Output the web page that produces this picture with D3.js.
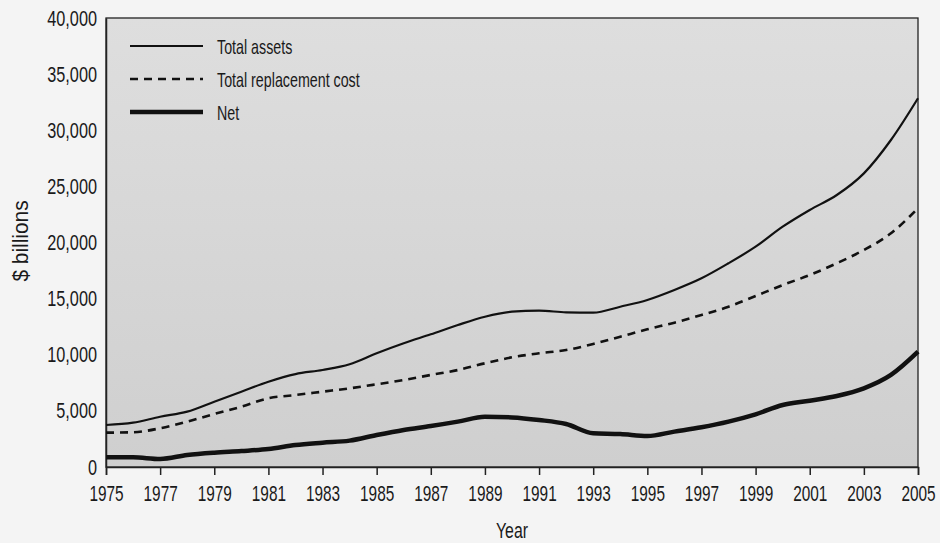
<!DOCTYPE html>
<html>
<head>
<meta charset="utf-8">
<script src="https://cdn.jsdelivr.net/npm/d3@7"></script>
<style>
  html, body { margin: 0; padding: 0; background: #f4f4f4; }
  svg { display: block; }
  text { font-family: "Liberation Sans", "DejaVu Sans Condensed", sans-serif; fill: #1a1a1a; }
</style>
</head>
<body>
<svg id="chart" width="940" height="543"></svg>
<script>
const years = d3.range(1975, 2006);
const totalAssets = [3740, 3950, 4480, 4930, 5820, 6710, 7600, 8280, 8640, 9150,
  10130, 11020, 11820, 12650, 13390, 13840, 13930, 13780, 13750, 14280,
  14880, 15770, 16810, 18150, 19630, 21410, 22900, 24230, 26160, 29130, 32850];
const replacementCost = [3060, 3090, 3450, 4040, 4720, 5370, 6120, 6410, 6710, 7010,
  7370, 7750, 8200, 8640, 9240, 9770, 10130, 10420, 10960, 11610,
  12270, 12860, 13540, 14280, 15230, 16210, 17100, 18150, 19330, 20820, 23050];
const netValues = [860, 860, 710, 1070, 1280, 1420, 1600, 1960, 2170, 2350,
  2850, 3300, 3650, 4040, 4480, 4420, 4190, 3830, 3000, 2940,
  2760, 3150, 3540, 4040, 4690, 5520, 5910, 6330, 7010, 8200, 10270];
const yTicks = [0, 5000, 10000, 15000, 20000, 25000, 30000, 35000, 40000];
const xTicks = d3.range(1975, 2006, 2);
const seriesNames = ["Total assets", "Total replacement cost", "Net"];

const svg = d3.select("#chart");
const m = { left: 106, right: 22, top: 18, bottom: 76 };
const W = 940, H = 543;
const x = d3.scaleLinear().domain([1975, 2005]).range([m.left, W - m.right]);
const y = d3.scaleLinear().domain([0, 40000]).range([H - m.bottom, m.top]);

function narrow(sel, sx) {
  sel.each(function () {
    const t = d3.select(this);
    const xv = +(t.attr("x") || 0);
    t.attr("x", xv / sx).attr("transform", `scale(${sx},1)`);
  });
}
function label(px, py, txt, size, anchor, rot, sx) {
  const g = svg.append("g").attr("transform", `translate(${px},${py})` + (rot ? ` rotate(${rot})` : ""));
  g.append("text").attr("transform", `scale(${sx},1)`).attr("text-anchor", anchor)
    .style("font-size", size + "px").text(txt);
}

const defs = svg.append("defs");
const grad = defs.append("linearGradient").attr("id", "bg").attr("x1", 0).attr("y1", 0).attr("x2", 0).attr("y2", 1);
grad.append("stop").attr("offset", "0%").attr("stop-color", "#dedede");
grad.append("stop").attr("offset", "100%").attr("stop-color", "#cfcfcf");

svg.append("rect")
  .attr("x", x(1975)).attr("y", y(40000))
  .attr("width", x(2005) - x(1975)).attr("height", y(0) - y(40000))
  .attr("fill", "url(#bg)").attr("stroke", "#222").attr("stroke-width", 1.3);

// axes
const yAxis = d3.axisLeft(y).tickValues(yTicks).tickSize(0).tickPadding(9)
  .tickFormat(d3.format(","));
const gy = svg.append("g").attr("transform", `translate(${x(1975)},0)`).call(yAxis);
gy.select(".domain").attr("stroke", "#222").attr("stroke-width", 1.5);
gy.selectAll("text").style("font-size", "22px").attr("fill", "#1a1a1a").call(narrow, 0.74);

const xAxis = d3.axisBottom(x).tickValues(xTicks).tickSize(8).tickPadding(10)
  .tickFormat(d3.format("d"));
const gx = svg.append("g").attr("transform", `translate(0,${y(0)})`).call(xAxis);
gx.select(".domain").attr("stroke", "#222").attr("stroke-width", 1.5);
gx.selectAll(".tick line").attr("stroke", "#222").attr("stroke-width", 1.5);
gx.selectAll("text").style("font-size", "22px").attr("fill", "#1a1a1a").call(narrow, 0.7);

label(512, 538, "Year", 22, "middle", 0, 0.72);
label(28, 241, "$ billions", 22, "middle", -90, 0.95);

// lines
const line = vals => d3.line().x((d, i) => x(years[i])).y(d => y(d)).curve(d3.curveMonotoneX)(vals);
const styles = [
  { vals: totalAssets, w: 2.2, dash: null },
  { vals: replacementCost, w: 2.6, dash: "8,6" },
  { vals: netValues, w: 4.5, dash: null }
];
styles.forEach(s => {
  svg.append("path").attr("d", line(s.vals)).attr("fill", "none")
    .attr("stroke", "#111").attr("stroke-width", s.w)
    .attr("stroke-dasharray", s.dash).attr("stroke-linejoin", "round");
});

// legend
seriesNames.forEach((name, i) => {
  const ly = 46 + i * 33;
  svg.append("line").attr("x1", 130).attr("x2", 203).attr("y1", ly).attr("y2", ly)
    .attr("stroke", "#111").attr("stroke-width", styles[i].w)
    .attr("stroke-dasharray", styles[i].dash);
  label(217, ly + 8, name, 21, "start", 0, 0.68);
});
</script>
</body>
</html>
